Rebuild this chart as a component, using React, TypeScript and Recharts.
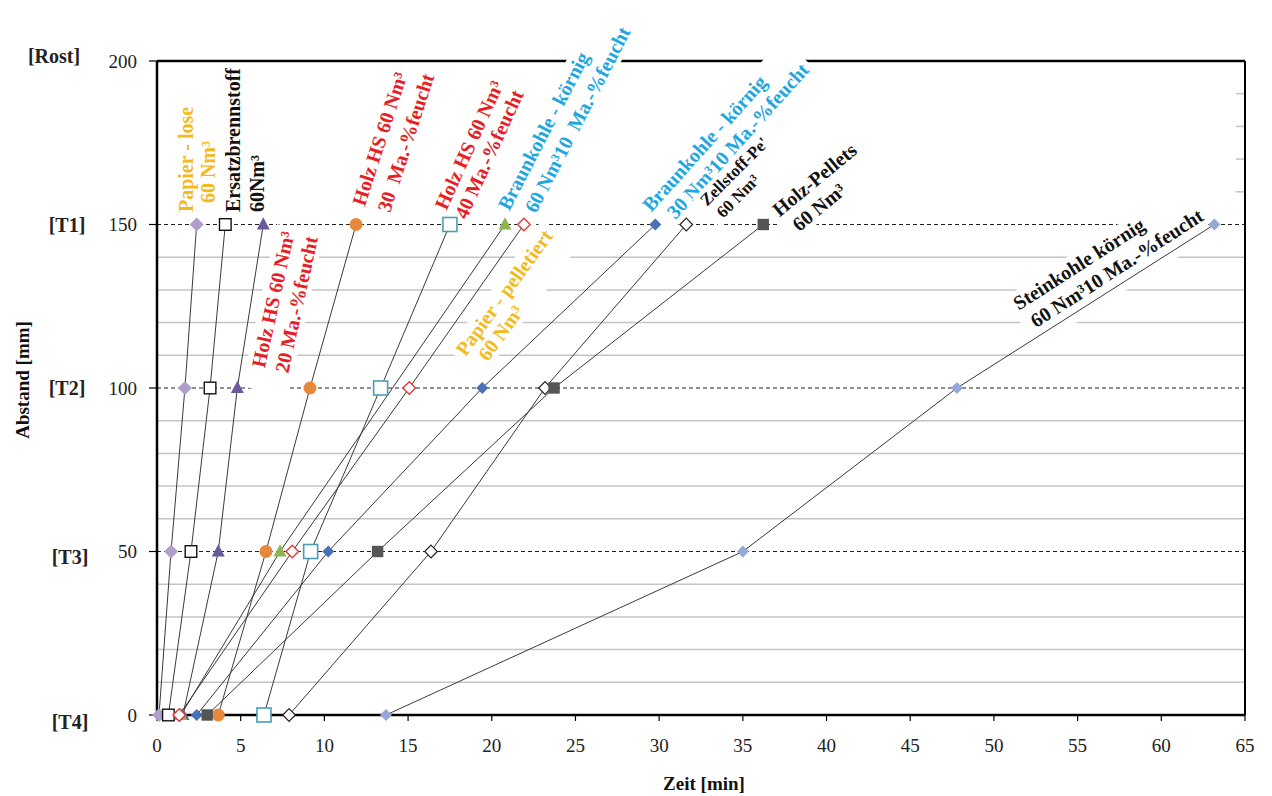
import React from 'react';
import { LineChart, Line, XAxis, YAxis, ReferenceLine, ReferenceDot } from 'recharts';

const FONT = '"Liberation Serif", "Times New Roman", serif';

// Distance levels: T4, T3, T2, T1 (mm)
const levels = [0, 50, 100, 150];
const yTicks = [0, 50, 100, 150, 200];
const yTickNames: Record<number, string> = { 0: '[T4]', 50: '[T3]', 100: '[T2]', 150: '[T1]', 200: '[Rost]' };
const xTicks = [0, 5, 10, 15, 20, 25, 30, 35, 40, 45, 50, 55, 60, 65];
const gridValues = [10, 20, 30, 40, 60, 70, 80, 90, 110, 120, 130, 140];
const dashedValues = [50, 100, 150];
const stubValues = [160, 170, 180, 190];

// Time [min] at T4, T3, T2, T1
const papierLose = [0.12, 0.84, 1.67, 2.37];
const ersatz = [0.68, 2.03, 3.17, 4.08];
const holz20 = [1.55, 3.66, 4.8, 6.35];
const holz30 = [3.66, 6.51, 9.14, 11.89];
const holz40 = [6.39, 9.18, 13.36, 17.5];
const braun60 = [1.43, 7.35, null, 20.79];
const papierPellet = [1.33, 8.08, 15.07, 21.92];
const braun30 = [2.37, 10.23, 19.43, 29.77];
const zellstoff = [7.89, 16.37, 23.18, 31.62];
const holzPellets = [3.0, 13.18, 23.72, 36.22];
const steinkohle = [13.68, 35.0, 47.79, 63.17];

type Kind = 'diamond' | 'square' | 'triangle' | 'circle';
interface SeriesSpec { name: string; values: (number | null)[]; kind: Kind; fill: string; stroke: string; s: number; sw: number; }

const series: SeriesSpec[] = [
  { name: 'Papier - lose', values: papierLose, kind: 'diamond', fill: '#ae9fcb', stroke: '#ae9fcb', s: 7, sw: 0 },
  { name: 'Ersatzbrennstoff', values: ersatz, kind: 'square', fill: '#ffffff', stroke: '#111111', s: 5.8, sw: 1.4 },
  { name: 'Holz HS 20', values: holz20, kind: 'triangle', fill: '#6a5a9c', stroke: '#6a5a9c', s: 6.5, sw: 0 },
  { name: 'Holz HS 30', values: holz30, kind: 'circle', fill: '#e6893a', stroke: '#e6893a', s: 6.5, sw: 0 },
  { name: 'Holz HS 40', values: holz40, kind: 'square', fill: '#ffffff', stroke: '#4a9db5', s: 7, sw: 1.6 },
  { name: 'Braunkohle 60', values: braun60, kind: 'triangle', fill: '#8fb34f', stroke: '#8fb34f', s: 6.5, sw: 0 },
  { name: 'Papier - pelletiert', values: papierPellet, kind: 'diamond', fill: '#ffffff', stroke: '#e03a3a', s: 6.3, sw: 1.4 },
  { name: 'Braunkohle 30', values: braun30, kind: 'diamond', fill: '#4a70b5', stroke: '#4a70b5', s: 6, sw: 0 },
  { name: 'Zellstoff-Pellets', values: zellstoff, kind: 'diamond', fill: '#ffffff', stroke: '#222222', s: 6.3, sw: 1.2 },
  { name: 'Holz-Pellets', values: holzPellets, kind: 'square', fill: '#555555', stroke: '#555555', s: 5.7, sw: 0 },
  { name: 'Steinkohle', values: steinkohle, kind: 'diamond', fill: '#94a9d8', stroke: '#94a9d8', s: 6, sw: 0 },
];

const GOLD = '#f2ba1c';
const RED = '#e61e26';
const CYAN = '#22a6e0';
const BLACK = '#111111';

interface LabelSpec {
  x: number; y: number; angle: number; lines: string[]; color: string; size: number; spacing: number; indent: number;
  padStart?: number; padEnd?: number; padBelow?: number;
}

const labels: LabelSpec[] = [
  { x: 1.73, y: 153.8, angle: -90, lines: ['Papier - lose', '60 Nm³'], color: GOLD, size: 20, spacing: 22, indent: 9 },
  { x: 4.54, y: 153.8, angle: -90, lines: ['Ersatzbrennstoff', '60Nm³'], color: BLACK, size: 20, spacing: 24, indent: 0, padEnd: 0 },
  { x: 6.03, y: 106.4, angle: -77.6, lines: ['Holz HS 60 Nm³', '20 Ma.-%feucht'], color: RED, size: 20, spacing: 24, indent: 0, padStart: 22 },
  { x: 12.01, y: 156.0, angle: -72, lines: ['Holz HS 60 Nm³', '30  Ma.-%feucht'], color: RED, size: 20, spacing: 26, indent: 2, padEnd: 0 },
  { x: 16.91, y: 155.0, angle: -65.5, lines: ['Holz HS 60 Nm³', '40 Ma.-%feucht'], color: RED, size: 20, spacing: 22, indent: 0 },
  { x: 20.67, y: 155.0, angle: -62.5, lines: ['Braunkohle - körnig', '60 Nm³10  Ma.-%feucht'], color: CYAN, size: 20, spacing: 25, indent: 10 },
  { x: 18.1, y: 110.7, angle: -54, lines: ['Papier - pelletiert', '60 Nm³'], color: GOLD, size: 20, spacing: 21, indent: 9 },
  { x: 29.21, y: 155.0, angle: -48, lines: ['Braunkohle - körnig', '30 Nm³10 Ma.-%feucht'], color: CYAN, size: 20, spacing: 23, indent: 11 },
  { x: 32.62, y: 156.6, angle: -45, lines: ["Zellstoff-Pe'", '60 Nm³'], color: BLACK, size: 17, spacing: 20, indent: 3 },
  { x: 36.92, y: 153.8, angle: -39.5, lines: ['Holz-Pellets', '60 Nm³'], color: BLACK, size: 20, spacing: 24, indent: 6 },
  { x: 51.26, y: 125.4, angle: -32.8, lines: ['Steinkohle körnig', '60 Nm³10 Ma.-%feucht'], color: BLACK, size: 20, spacing: 24, indent: 5, padBelow: 12, padEnd: 0 },
];

let ctx: CanvasRenderingContext2D | null = null;
function measure(text: string, size: number): number {
  if (typeof document === 'undefined') return text.length * size * 0.5;
  if (!ctx) ctx = document.createElement('canvas').getContext('2d');
  if (!ctx) return text.length * size * 0.5;
  ctx.font = `bold ${size}px "Liberation Serif"`;
  return ctx.measureText(text).width;
}

function TextBox({ cx, cy, spec }: { cx: number; cy: number; spec: LabelSpec }) {
  const widths = spec.lines.map((l, i) => measure(l, spec.size) + (i > 0 ? spec.indent : 0));
  const maxW = Math.max(...widths);
  const padS = spec.padStart ?? 5;
  const padE = spec.padEnd ?? 5;
  const padB = spec.padBelow ?? 0;
  const n = spec.lines.length;
  const half = spec.size * 0.6;
  return (
    <g transform={`translate(${cx},${cy}) rotate(${spec.angle})`}>
      <rect x={-padS} y={-half} width={maxW + padS + padE} height={spec.spacing * (n - 1) + half * 2 + padB} fill="#ffffff" />
      {spec.lines.map((l, i) => (
        <text
          key={i}
          x={i > 0 ? spec.indent : 0}
          y={i * spec.spacing}
          dominantBaseline="central"
          fontFamily={FONT}
          fontWeight="bold"
          fontSize={spec.size}
          fill={spec.color}
          style={{ whiteSpace: 'pre' }}
        >
          {l}
        </text>
      ))}
    </g>
  );
}

function Marker({ cx, cy, spec }: { cx: number; cy: number; spec: SeriesSpec }) {
  const { s, fill, stroke, sw } = spec;
  if (cx == null || cy == null) return null;
  if (spec.kind === 'diamond') {
    return <polygon points={`${cx},${cy - s} ${cx + s},${cy} ${cx},${cy + s} ${cx - s},${cy}`} fill={fill} stroke={stroke} strokeWidth={sw} />;
  }
  if (spec.kind === 'square') {
    return <rect x={cx - s} y={cy - s} width={2 * s} height={2 * s} fill={fill} stroke={stroke} strokeWidth={sw} />;
  }
  if (spec.kind === 'triangle') {
    return <polygon points={`${cx},${cy - s * 1.1} ${cx + s},${cy + s * 0.75} ${cx - s},${cy + s * 0.75}`} fill={fill} stroke={stroke} strokeWidth={sw} />;
  }
  return <circle cx={cx} cy={cy} r={s} fill={fill} stroke={stroke} strokeWidth={sw} />;
}

const yNameOffset: Record<number, { x: number; dy: number }> = {
  200: { x: 46, dy: -5 },
  150: { x: 59, dy: 0 },
  100: { x: 59, dy: 0 },
  50: { x: 62, dy: 5 },
  0: { x: 62, dy: 7 },
};

function YTick(props: any) {
  const { y, payload } = props;
  const v = payload.value as number;
  const o = yNameOffset[v];
  return (
    <g>
      <text x={129} y={y} textAnchor="end" dominantBaseline="central" fontFamily={FONT} fontSize={19} fill="#222">
        {v}
      </text>
      <text x={o.x} y={y + o.dy} textAnchor="middle" dominantBaseline="central" fontFamily={FONT} fontWeight="bold" fontSize={20} fill="#222">
        {yTickNames[v]}
      </text>
    </g>
  );
}

function XTick(props: any) {
  const { x, payload } = props;
  return (
    <text x={x} y={737} textAnchor="middle" dominantBaseline="central" fontFamily={FONT} fontSize={19} fill="#222">
      {payload.value}
    </text>
  );
}

function XTitle() {
  return (
    <text x={696} y={775} textAnchor="middle" dominantBaseline="central" fontFamily={FONT} fontWeight="bold" fontSize={19} fill="#111">
      Zeit [min]
    </text>
  );
}

function YTitle() {
  return (
    <text x={14} y={372} transform="rotate(-90 14 372)" textAnchor="middle" dominantBaseline="central" fontFamily={FONT} fontWeight="bold" fontSize={19} fill="#111">
      Abstand [mm]
    </text>
  );
}

const refLineZ: any = { zIndex: -80 };
const refDotZ: any = { zIndex: -50 };

export default function App() {
  return (
    <LineChart width={1256} height={788} margin={{ top: 53, right: 19, bottom: 0, left: 0 }}>
      <XAxis
        type="number"
        dataKey="t"
        domain={[0, 65]}
        ticks={xTicks}
        interval={0}
        height={81}
        tickSize={6}
        axisLine={{ stroke: '#000', strokeWidth: 2.5 }}
        tickLine={{ stroke: '#000', strokeWidth: 1.2 }}
        tick={XTick}
        label={<XTitle />}
      />
      <YAxis
        type="number"
        dataKey="d"
        domain={[0, 200]}
        ticks={yTicks}
        interval={0}
        width={149}
        tickSize={8}
        axisLine={{ stroke: '#000', strokeWidth: 2.5 }}
        tickLine={{ stroke: '#000', strokeWidth: 1.2 }}
        tick={YTick}
        label={<YTitle />}
      />
      {gridValues.map((v) => (
        <ReferenceLine key={`g${v}`} y={v} stroke="#c4c4c4" strokeWidth={1.5} {...refLineZ} />
      ))}
      {stubValues.map((v) => (
        <ReferenceLine key={`s${v}`} segment={[{ x: 64.45, y: v }, { x: 65, y: v }]} stroke="#c4c4c4" strokeWidth={1.5} {...refLineZ} />
      ))}
      {dashedValues.map((v) => (
        <ReferenceLine key={`d${v}`} y={v} stroke="#222" strokeWidth={1.2} strokeDasharray="4 3" {...refLineZ} />
      ))}
      <ReferenceLine y={200} stroke="#000" strokeWidth={2.5} {...refLineZ} />
      <ReferenceLine x={65} stroke="#000" strokeWidth={2} {...refLineZ} />
      {labels.map((l, i) => (
        <ReferenceDot
          key={`l${i}`}
          x={l.x}
          y={l.y}
          r={1}
          ifOverflow="visible"
          {...refDotZ}
          shape={(p: any) => <TextBox cx={p.cx} cy={p.cy} spec={l} />}
        />
      ))}
      {series.map((s) => (
        <Line
          key={s.name}
          name={s.name}
          data={levels
            .map((d, i) => ({ t: s.values[i], d }))
            .filter((p) => p.t != null)}
          dataKey="d"
          type="linear"
          stroke="#3a3a3a"
          strokeWidth={1}
          dot={(p: any) => <Marker key={`${s.name}-${p.index}`} cx={p.cx} cy={p.cy} spec={s} />}
          activeDot={false}
          isAnimationActive={false}
          legendType="none"
        />
      ))}
    </LineChart>
  );
}
